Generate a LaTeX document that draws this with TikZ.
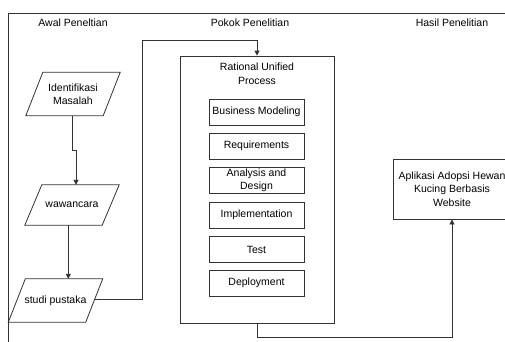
\documentclass[tikz,border=0pt]{standalone}
\usepackage{fontspec}
\setmainfont{Liberation Sans}
\usetikzlibrary{arrows.meta}
\definecolor{ink}{HTML}{333333}
\tikzset{
  x=1pt, y=-1pt,
  every node/.style={font=\fontsize{10.5}{13.5}\selectfont, text=black, align=center, inner sep=0pt},
  heading/.style={},
  datain/.style={minimum width=77pt, minimum height=43pt},
  slanted/.style={draw=ink, line width=0.8pt},
  phase/.style={draw=ink, line width=0.8pt, minimum width=95pt, minimum height=26pt},
  frame/.style={draw=ink, line width=0.8pt},
  link/.style={draw=ink, line width=0.8pt, -{Triangle[length=5pt,width=5pt]}}
}
\begin{document}
\begin{tikzpicture}
\useasboundingbox (0,0) rectangle (505,341);
\fill[white] (0,0) rectangle (505,341);

% outer frame
\draw[frame] (510,13) -- (8,13) -- (8,345);

% column headings
\node[heading] (h1) at (73,23) {Awal Peneltian};
\node[heading] (h2) at (250,23) {Pokok Penelitian};
\node[heading] (h3) at (452,23) {Hasil Penelitian};

% early research steps (data boxes drawn as parallelograms)
\node[datain] (idm) at (73,94) {Identifikasi\\Masalah};
\node[datain, minimum height=40pt] (waw) at (72,205) {wawancara};
\node[datain] (stp) at (55.5,300.5) {studi pustaka};
\foreach \n in {idm,waw,stp}
  \draw[slanted] ([xshift=8.5pt]\n.north west) -- ([xshift=8.5pt]\n.north east)
    -- ([xshift=-8.5pt]\n.south east) -- ([xshift=-8.5pt]\n.south west) -- cycle;

% RUP container
\node[frame, minimum width=154pt, minimum height=267pt] (rup) at (257,189.5) {};
\node (ruptitle) at (257,73.5) {Rational Unified\\Process};
\node[phase] (bm) at (256.5,112) {Business Modeling};
\node[phase] (req) at (256.5,146) {Requirements};
\node[phase, font=\fontsize{10.5}{12.5}\selectfont] (ad) at (256.5,180.5) {Analysis and\\Design};
\node[phase] (imp) at (256.5,215) {Implementation};
\node[phase] (tst) at (256.5,249.5) {Test};
\node[phase] (dep) at (256.5,283) {Deployment};

% result
\node[frame, minimum width=118pt, minimum height=60pt] (app) at (452,189) {};
\node (apptext) at (452,189) {Aplikasi Adopsi Hewan\\Kucing Berbasis\\Website};

% connectors
\coordinate (j1) at (72.7,150);
\draw[link] (idm.south -| j1) -- (j1) -- (j1 -| 76,0) -- (76,0 |- waw.north);
\draw[link] (waw.south -| 68.3,0) -- (68.3,0 |- stp.north);
\coordinate (s1) at (142,299);
\coordinate (s2) at (142,40);
\draw[link] ([xshift=-0.5pt]stp.east |- s1) -- (s1) -- (s2) -- (s2 -| rup.north) -- (rup.north);
\coordinate (r1) at (257,337);
\draw[link] (rup.south) -- (r1) -- (r1 -| app.south) -- (app.south);
\end{tikzpicture}
\end{document}
